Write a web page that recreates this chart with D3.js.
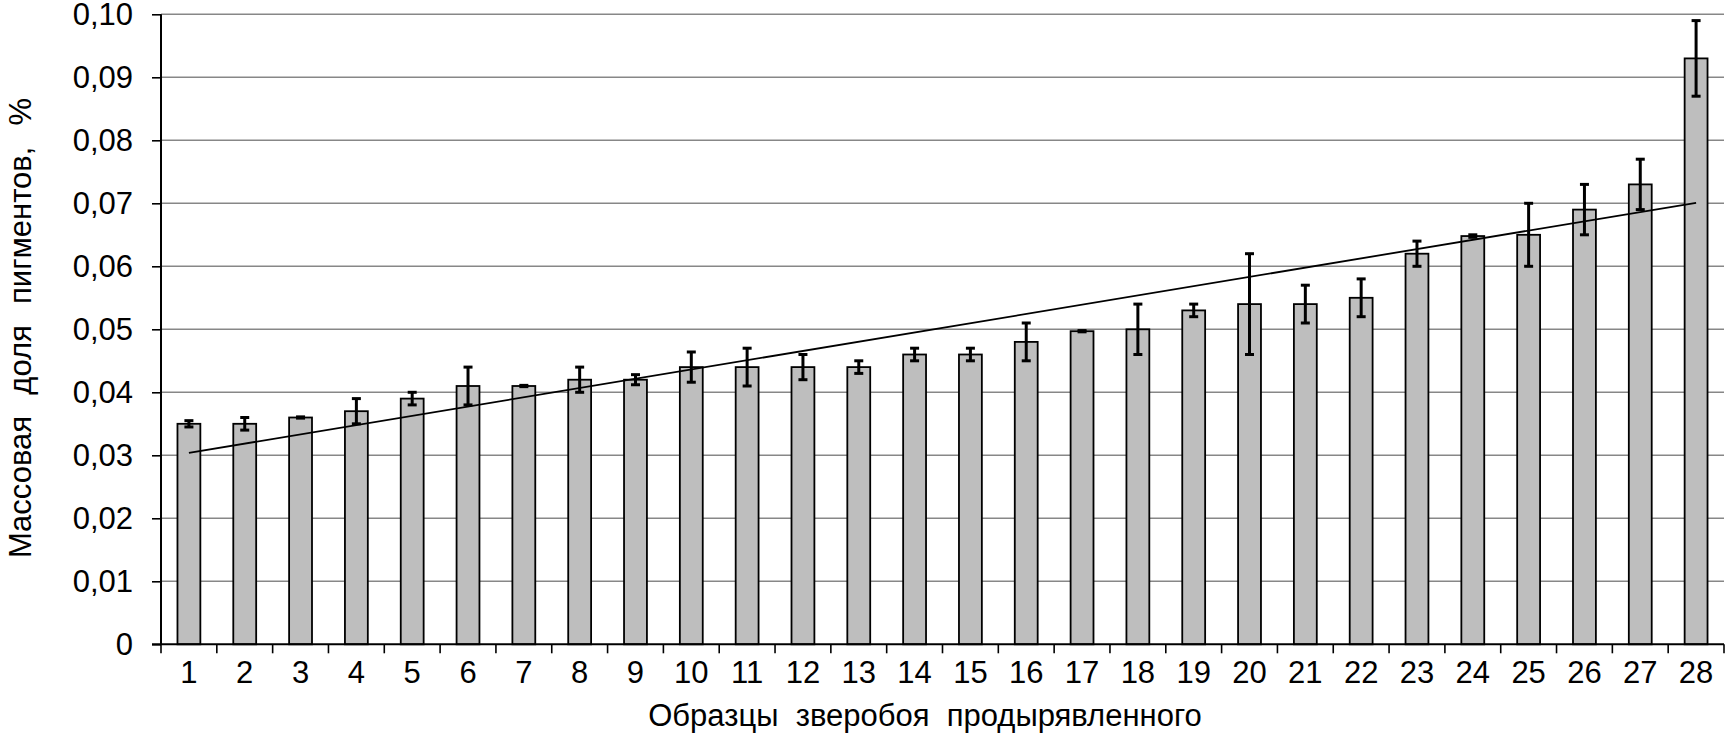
<!DOCTYPE html>
<html><head><meta charset="utf-8">
<script src="https://cdn.jsdelivr.net/npm/d3@7"></script>
<style>body{margin:0;background:#fff}svg{display:block}text{font-family:"Liberation Sans",Arial,sans-serif;fill:#000}</style>
</head><body>
<svg id="c" width="1732" height="737"></svg>
<script>
const categories = d3.range(1, 29).map(String);
const values = [0.035,0.035,0.036,0.037,0.039,0.041,0.041,0.042,0.042,0.044,0.044,0.044,0.044,0.046,0.046,0.048,0.0497,0.050,0.053,0.054,0.054,0.055,0.062,0.0648,0.065,0.069,0.073,0.093];
const errors = [0.0005,0.001,0.0001,0.002,0.001,0.003,0.0001,0.002,0.0008,0.0024,0.003,0.002,0.001,0.001,0.001,0.003,0.0001,0.004,0.001,0.008,0.003,0.003,0.002,0.0002,0.005,0.004,0.004,0.006];
const yTicks = [0,0.01,0.02,0.03,0.04,0.05,0.06,0.07,0.08,0.09,0.10];
const yTickLabels = ["0","0,01","0,02","0,03","0,04","0,05","0,06","0,07","0,08","0,09","0,10"];
const xTitle = "Образцы\u00a0 зверобоя\u00a0 продырявленного";
const yTitle = "Массовая\u00a0 доля\u00a0 пигментов,\u00a0 %";

const L = 161, R = 1724, T = 14.3, B = 644.3;
const FS = 31;
const svg = d3.select("#c");
const x = d3.scaleBand().domain(categories).range([L, R]).padding(0);
const y = d3.scaleLinear().domain([0, 0.10]).range([B, T]);
const bw = x.bandwidth() * 0.41;

// gridlines
svg.append("g").selectAll("line").data(yTicks.slice(1)).join("line")
  .attr("x1", L).attr("x2", R).attr("y1", d => y(d)).attr("y2", d => y(d))
  .attr("stroke", "#878787").attr("stroke-width", 1.6);

// y axis
const yAxis = d3.axisLeft(y).tickValues(yTicks).tickSize(9).tickPadding(19)
  .tickFormat((d, i) => yTickLabels[i]);
const gy = svg.append("g").attr("transform", `translate(${L},0)`).call(yAxis);
gy.select(".domain").remove();
gy.selectAll(".tick line").attr("stroke", "#000").attr("stroke-width", 1.6);
gy.selectAll(".tick text").attr("font-size", FS).style("font-family", '"Liberation Sans",Arial,sans-serif');

// bars
svg.append("g").selectAll("rect").data(values).join("rect")
  .attr("x", (d, i) => x(categories[i]) + (x.bandwidth() - bw) / 2)
  .attr("y", d => y(d)).attr("width", bw).attr("height", d => B - y(d))
  .attr("fill", "#bebebe").attr("stroke", "#000").attr("stroke-width", 1.8);

// error bars
const eg = svg.append("g").attr("stroke", "#000").attr("stroke-width", 3);
values.forEach((v, i) => {
  const cx = x(categories[i]) + x.bandwidth() / 2;
  const y1 = y(v + errors[i]), y0 = y(v - errors[i]);
  eg.append("line").attr("x1", cx).attr("x2", cx).attr("y1", y1).attr("y2", y0);
  eg.append("line").attr("x1", cx - 4.5).attr("x2", cx + 4.5).attr("y1", y1).attr("y2", y1);
  eg.append("line").attr("x1", cx - 4.5).attr("x2", cx + 4.5).attr("y1", y0).attr("y2", y0);
});

// linear trend line (least squares over the values)
const n = values.length, xs = d3.range(1, n + 1);
const mx = d3.mean(xs), my = d3.mean(values);
const slope = d3.sum(xs, (xi, i) => (xi - mx) * (values[i] - my)) / d3.sum(xs, xi => (xi - mx) ** 2);
const icpt = my - slope * mx;
const cxOf = i => x(categories[i]) + x.bandwidth() / 2;
svg.append("line")
  .attr("x1", cxOf(0)).attr("y1", y(icpt + slope * 1))
  .attr("x2", cxOf(n - 1)).attr("y2", y(icpt + slope * n))
  .attr("stroke", "#000").attr("stroke-width", 1.8);

// axes lines
svg.append("line").attr("x1", L).attr("x2", L).attr("y1", T).attr("y2", B).attr("stroke", "#000").attr("stroke-width", 2);
svg.append("line").attr("x1", L - 9).attr("x2", R).attr("y1", B).attr("y2", B).attr("stroke", "#000").attr("stroke-width", 2);

// x axis ticks at category boundaries
const bounds = categories.map(c => x(c)).concat([R]);
svg.append("g").selectAll("line").data(bounds).join("line")
  .attr("x1", d => d).attr("x2", d => d).attr("y1", B).attr("y2", B + 9)
  .attr("stroke", "#000").attr("stroke-width", 1.6);
svg.append("g").selectAll("text").data(categories).join("text")
  .attr("x", d => x(d) + x.bandwidth() / 2).attr("y", 683)
  .attr("text-anchor", "middle").attr("font-size", FS).text(d => d);

// titles
svg.append("text").attr("x", 925).attr("y", 726).attr("text-anchor", "middle")
  .attr("font-size", FS).text(xTitle);
svg.append("text").attr("transform", "translate(31,328) rotate(-90)")
  .attr("text-anchor", "middle").attr("font-size", FS).attr("word-spacing", 2).text(yTitle);
</script>
</body></html>
